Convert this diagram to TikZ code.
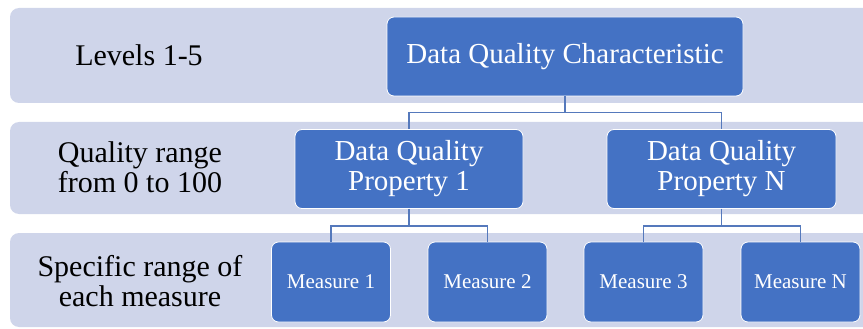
\documentclass[tikz,border=0pt]{standalone}
\usepackage{fontspec}
\setmainfont{Liberation Serif}
\definecolor{bandfill}{HTML}{CFD5EA}
\definecolor{boxfill}{HTML}{4472C4}
\definecolor{linkcol}{HTML}{5579BC}
\begin{document}
\begin{tikzpicture}[x=1pt,y=-1pt,
    band/.style={fill=bandfill,rounded corners=9pt},
    level/.style={align=center,font=\fontsize{30}{30}\selectfont},
    box/.style={draw=white,line width=0.8pt,fill=boxfill,rounded corners=7pt,
      text=white,align=center,inner sep=0pt},
    big/.style={box,font=\fontsize{29}{30}\selectfont,minimum height=79pt},
    small/.style={box,font=\fontsize{21}{24}\selectfont,
      minimum width=119pt,minimum height=80pt}]
  \useasboundingbox (0,0) rectangle (863,329);
  \clip (0,0) rectangle (863,329);
  \fill[band] (10,8) rectangle (875,103);
  \fill[band] (10,122) rectangle (875,214);
  \fill[band] (10,233) rectangle (875,327);
  \draw
    (139,55) node[level] (l1){Levels 1-5}
    (140,167) node[level] (l2){Quality range\\from 0 to 100}
    (140,281) node[level] (l3){Specific range of\\each measure};
  \draw
    (565,56.5) node[big,minimum width=356pt] (dqc){Data Quality Characteristic}
    (409,169) node[big,minimum width=228pt] (p1){Data Quality\\Property 1}
    (721.5,169) node[big,minimum width=229pt] (pn){Data Quality\\Property N}
    (331,282) node[small] (m1){Measure 1}
    (487.5,282) node[small] (m2){Measure 2}
    (643.5,282) node[small] (m3){Measure 3}
    (800.5,282) node[small] (mn){Measure N};
  \begin{scope}[linkcol,line width=1.2pt]
    \draw (dqc.south) -- ++(0,16) -| (p1.north);
    \draw (dqc.south) -- ++(0,16) -| (pn.north);
    \draw (p1.south) -- ++(0,17) -| (m1.north);
    \draw (p1.south) -- ++(0,17) -| (m2.north);
    \draw (pn.south) -- ++(0,17) -| (m3.north);
    \draw (pn.south) -- ++(0,17) -| (mn.north);
  \end{scope}
\end{tikzpicture}
\end{document}
